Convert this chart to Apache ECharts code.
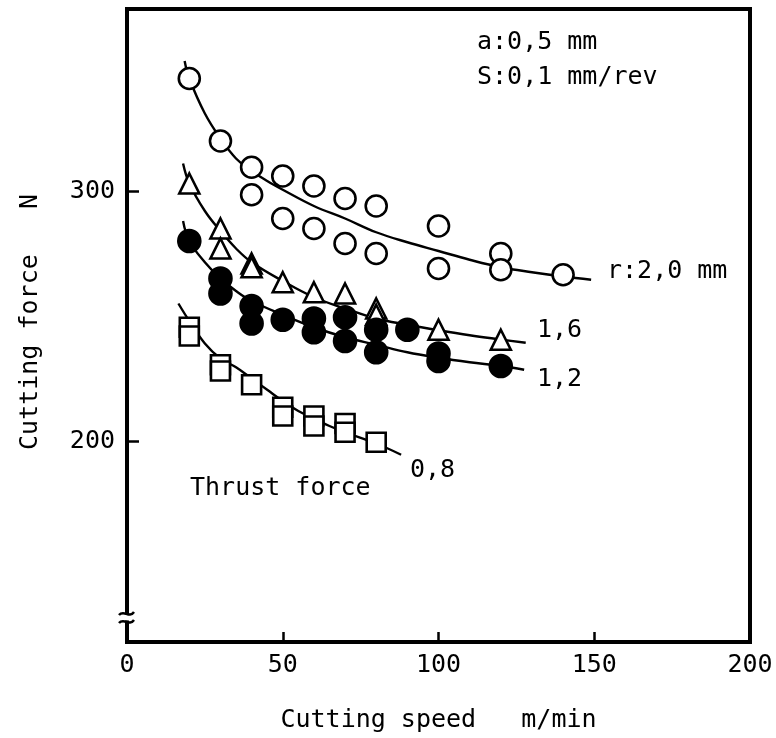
<!DOCTYPE html>
<html><head><meta charset="utf-8">
<script src="https://cdn.jsdelivr.net/npm/echarts@6/dist/echarts.min.js"></script>
<style>html,body{margin:0;padding:0;background:#fff}#c{width:776px;height:738px}</style>
</head><body><div id="c"></div>
<script>
// Axis tick values
const xTickValues = [0, 50, 100, 150, 200];
const yTickValues = [200, 300];

// Measured points: r = 2.0 mm (open circles)
const speedR20 = [20, 30, 40, 40, 50, 50, 60, 60, 70, 70, 80, 80, 100, 100, 120, 120, 140];
const forceR20 = [345, 320, 309.5, 298.5, 306, 289, 302, 285, 297, 279, 294, 275, 286, 269, 275, 268.5, 266.5];
// r = 1.6 mm (open triangles)
const speedR16 = [20, 30, 30, 40, 40, 50, 60, 70, 80, 80, 100, 120];
const forceR16 = [303, 285, 277, 271, 269.5, 263.5, 259.5, 259, 253, 250.5, 244.5, 240.5];
// r = 1.2 mm (filled circles)
const speedR12 = [20, 30, 30, 40, 40, 50, 60, 60, 70, 70, 80, 80, 90, 100, 100, 120];
const forceR12 = [280, 265, 259, 254, 247, 248.5, 249, 243.5, 249.5, 240, 244.5, 235.5, 244.5, 235, 232, 230];
// r = 0.8 mm, thrust force (open squares)
const speedR08 = [20, 20, 30, 30, 40, 50, 50, 60, 60, 70, 70, 80];
const forceR08 = [245.5, 242, 230.5, 228, 222.5, 213.5, 210, 210, 206, 207, 203.5, 199.5];

// Fitted curves
const curveR20X = [18.5, 20, 25, 30, 35, 40, 45, 50, 60, 70, 80, 90, 100, 110, 120, 130, 140, 149];
const curveR20Y = [352, 345, 331, 321, 313, 308, 304, 300.5, 294, 289, 283.5, 279.5, 276, 272.5, 269.5, 267.5, 265.8, 264.5];
const curveR16X = [18, 20, 25, 30, 35, 40, 50, 60, 70, 80, 90, 100, 110, 120, 128];
const curveR16Y = [311, 303, 292, 284, 277, 271.5, 264, 257.5, 253, 249, 246.5, 244.3, 242.3, 240.6, 239.3];
const curveR12X = [18, 20, 25, 30, 35, 40, 50, 60, 70, 80, 90, 100, 110, 120, 127.5];
const curveR12Y = [288, 280, 271.5, 265, 260, 256, 250.5, 245.5, 241.5, 238.5, 235.5, 233.3, 231.5, 230, 228.5];
const curveR08X = [16.5, 20, 25, 30, 35, 40, 45, 50, 55, 60, 65, 70, 80, 88];
const curveR08Y = [255, 248, 239, 233, 229.5, 225, 220.5, 216, 212, 209, 206, 203.5, 199, 194.5];

const zip = (a, b) => a.map((v, i) => [v, b[i]]);
const FONT = 'DejaVu Sans Mono';

const chart = echarts.init(document.getElementById('c'), null, {renderer: 'canvas'});

function curve(xs, ys) {
  return {
    type: 'line', data: zip(xs, ys), smooth: 0.4, showSymbol: false, silent: true,
    lineStyle: {color: '#000', width: 2.4}, z: 2
  };
}
function marks(xs, ys, symbol, size, fill) {
  return {
    type: 'scatter', data: zip(xs, ys), symbol: symbol, symbolSize: size, silent: true,
    itemStyle: {color: fill, borderColor: '#000', borderWidth: 2.6, opacity: 1}, z: 5
  };
}
function txt(str, x, y, extra) {
  return Object.assign({
    type: 'text', x: x, y: y, z: 100,
    style: {text: str, fill: '#000', font: '25px "' + FONT + '"', textVerticalAlign: 'middle', textAlign: 'left'}
  }, extra || {});
}

const option = {
  animation: false,
  backgroundColor: '#fff',
  grid: {left: 127, right: 26, top: 9, bottom: 96, show: true, borderColor: '#000', borderWidth: 4, backgroundColor: 'transparent'},
  xAxis: {
    type: 'value', min: xTickValues[0], max: xTickValues[xTickValues.length - 1], interval: 50,
    axisLine: {show: false}, splitLine: {show: false},
    axisTick: {show: true, inside: true, length: 10, customValues: xTickValues.slice(1, -1), lineStyle: {color: '#000', width: 2.5}},
    axisLabel: {color: '#000', fontFamily: FONT, fontSize: 25, margin: 11},
    name: 'Cutting speed   m/min', nameLocation: 'middle', nameGap: 66,
    nameTextStyle: {color: '#000', fontFamily: FONT, fontSize: 25}
  },
  yAxis: {
    type: 'value', min: 119.6, max: 372.8,
    axisLine: {show: false}, splitLine: {show: false},
    axisTick: {show: true, inside: true, length: 12, customValues: yTickValues, lineStyle: {color: '#000', width: 2.5}},
    axisLabel: {color: '#000', fontFamily: FONT, fontSize: 25, margin: 12, customValues: yTickValues}
  },
  graphic: [
    txt('a:0,5 mm', 477, 42),
    txt('S:0,1 mm/rev', 477, 77),
    txt('r:2,0 mm', 607, 271),
    txt('1,6', 537, 330),
    txt('1,2', 537, 379),
    txt('0,8', 410, 470),
    txt('Thrust force', 190, 488),
    txt('Cutting force   N', 30, 322, {rotation: Math.PI / 2, style: {text: 'Cutting force   N', fill: '#000', font: '25px "' + FONT + '"', textVerticalAlign: 'middle', textAlign: 'center'}}),
    {type: 'rect', z: 100, shape: {x: 117, y: 614.5, width: 20, height: 6}, style: {fill: '#fff'}},
    {type: 'bezierCurve', z: 101, shape: {x1: 119, y1: 615, cpx1: 124, cpy1: 609, cpx2: 129, cpy2: 619, x2: 134, y2: 612}, style: {stroke: '#000', lineWidth: 2.5, fill: null}},
    {type: 'bezierCurve', z: 101, shape: {x1: 119, y1: 623, cpx1: 124, cpy1: 617, cpx2: 129, cpy2: 627, x2: 134, y2: 620}, style: {stroke: '#000', lineWidth: 2.5, fill: null}}
  ],
  series: [
    curve(curveR20X, curveR20Y),
    curve(curveR16X, curveR16Y),
    curve(curveR12X, curveR12Y),
    curve(curveR08X, curveR08Y),
    marks(speedR20, forceR20, 'circle', 21, '#fff'),
    marks(speedR16, forceR16, 'triangle', 20, '#fff'),
    marks(speedR12, forceR12, 'circle', 22, '#000'),
    marks(speedR08, forceR08, 'rect', 19, '#fff')
  ]
};
chart.setOption(option);
</script>
</body></html>
